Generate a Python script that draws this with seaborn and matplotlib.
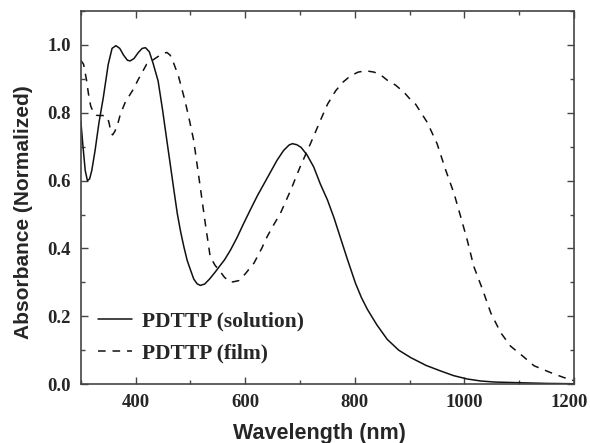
import numpy as np
import pandas as pd
import matplotlib
matplotlib.use("Agg")
import matplotlib.pyplot as plt
from matplotlib.ticker import MultipleLocator
from matplotlib.font_manager import FontProperties
from matplotlib.transforms import ScaledTranslation
import seaborn as sns

# ---- data ----
sol_wl = [300, 304, 308, 312, 316, 320, 326, 333, 341, 350, 357, 364, 371, 378, 385,
          390, 397, 405, 412, 418, 425, 432, 441, 449, 457, 463, 470, 476, 482, 488,
          494, 500, 506, 512, 518, 526, 535, 545, 552, 562, 573, 585, 596, 609, 622,
          634, 646, 658, 670, 680, 686, 694, 702, 713, 725, 737, 750, 762, 774, 786,
          801, 812, 823, 840, 859, 880, 902, 930, 956, 980, 1005, 1030, 1055, 1100,
          1150, 1200]
sol_abs = [0.775, 0.70, 0.63, 0.60, 0.605, 0.63, 0.689, 0.77, 0.845, 0.943, 0.99, 0.998,
           0.99, 0.97, 0.955, 0.953, 0.96, 0.978, 0.99, 0.992, 0.98, 0.945, 0.894, 0.81,
           0.718, 0.65, 0.57, 0.503, 0.45, 0.405, 0.365, 0.337, 0.31, 0.296, 0.291, 0.295,
           0.31, 0.33, 0.345, 0.366, 0.395, 0.432, 0.47, 0.513, 0.555, 0.59, 0.625, 0.66,
           0.689, 0.705, 0.709, 0.706, 0.698, 0.675, 0.64, 0.59, 0.543, 0.49, 0.43, 0.37,
           0.298, 0.255, 0.22, 0.175, 0.132, 0.100, 0.078, 0.055, 0.039, 0.025, 0.015,
           0.009, 0.006, 0.004, 0.002, 0.001]

film_wl = [300, 305, 310, 314, 318, 323, 328, 332, 340, 346, 349, 352, 355, 358, 362,
           367, 372, 381, 396, 405, 420, 429, 440, 450, 457, 463, 469, 478, 490, 499,
           506, 518, 527, 536, 545, 552, 562, 573, 588, 600, 616, 630, 640, 652, 664,
           683, 700, 719, 737, 750, 765, 778, 792, 806, 820, 835, 847, 860, 874, 890,
           902, 911, 932, 950, 966, 981, 993, 1005, 1017, 1033, 1048, 1066, 1084, 1106,
           1127, 1157, 1180, 1200]
film_abs = [0.955, 0.943, 0.90, 0.855, 0.82, 0.801, 0.793, 0.792, 0.792, 0.79, 0.785,
            0.767, 0.74, 0.735, 0.745, 0.765, 0.795, 0.831, 0.87, 0.899, 0.943, 0.953,
            0.965, 0.975, 0.978, 0.97, 0.948, 0.909, 0.836, 0.772, 0.718, 0.58, 0.475,
            0.376, 0.35, 0.337, 0.315, 0.30, 0.305, 0.325, 0.357, 0.40, 0.435, 0.47,
            0.503, 0.572, 0.64, 0.709, 0.777, 0.825, 0.865, 0.89, 0.909, 0.92, 0.924,
            0.92, 0.912, 0.895, 0.882, 0.86, 0.838, 0.825, 0.772, 0.709, 0.63, 0.562,
            0.494, 0.425, 0.347, 0.279, 0.21, 0.152, 0.112, 0.083, 0.054, 0.034, 0.02,
            0.01]

labels = ["PDTTP (solution)", "PDTTP (film)"]
x_ticks = [400, 600, 800, 1000, 1200]
y_ticks = [0.0, 0.2, 0.4, 0.6, 0.8, 1.0]

df_sol = pd.DataFrame({"wl": sol_wl, "abs": sol_abs})
df_film = pd.DataFrame({"wl": film_wl, "abs": film_abs})

sns.set_style("ticks")
plt.rcParams["font.family"] = ["Liberation Serif", "DejaVu Serif"]

fig = plt.figure(figsize=(5.9, 4.43), dpi=100)
ax = fig.add_axes([0.137, 0.133, 0.836, 0.842])

sns.lineplot(data=df_sol, x="wl", y="abs", ax=ax, color="#111111", lw=1.1,
             label=labels[0], sort=False)
sns.lineplot(data=df_film, x="wl", y="abs", ax=ax, color="#111111", lw=1.1,
             label=labels[1], sort=False)
ax.lines[1].set_dashes((5, 4.5))

ax.set_xlim(300, 1200)
ax.set_ylim(0, 1.1)
ax.set_xticks(x_ticks)
ax.set_yticks(y_ticks)
ax.xaxis.set_minor_locator(MultipleLocator(100))
ax.yaxis.set_minor_locator(MultipleLocator(0.1))
ax.set_yticklabels([f"{v:.1f}" for v in y_ticks])

for s in ax.spines.values():
    s.set_color("#444444")
    s.set_linewidth(1.2)

ax.tick_params(which="both", direction="in", top=True, right=True, color="#444444",
               width=1.0, labelsize=13.5, pad=7)
ax.tick_params(which="major", length=5)
ax.tick_params(which="minor", length=3)
for lab in ax.get_xticklabels() + ax.get_yticklabels():
    lab.set_fontweight("bold")
    lab.set_family(["Liberation Serif", "DejaVu Serif"])

# nudge the last x tick label slightly left so it stays inside the figure
last = ax.get_xticklabels()[-1]
last.set_transform(last.get_transform() + ScaledTranslation(-5 / 100, 0, fig.dpi_scale_trans))

ax.set_xlabel("Wavelength (nm)", fontsize=15.5, fontweight="bold",
              family=["Liberation Sans", "DejaVu Sans"])
ax.set_ylabel("Absorbance (Normalized)", fontsize=15.0, fontweight="bold",
              family=["Liberation Sans", "DejaVu Sans"])
ax.xaxis.set_label_coords((319 - 81) / 493, -0.105)
ax.yaxis.set_label_coords(-0.097, (384 - 212.5) / 373)

leg = ax.legend(frameon=False, loc="upper left", bbox_to_anchor=(0.034, 0.194),
                prop=FontProperties(family="Liberation Serif", weight="bold", size=15.5),
                handlelength=1.6, handletextpad=0.46, labelspacing=0.55,
                borderaxespad=0, borderpad=0)

fig.savefig("out.png", dpi=100)
